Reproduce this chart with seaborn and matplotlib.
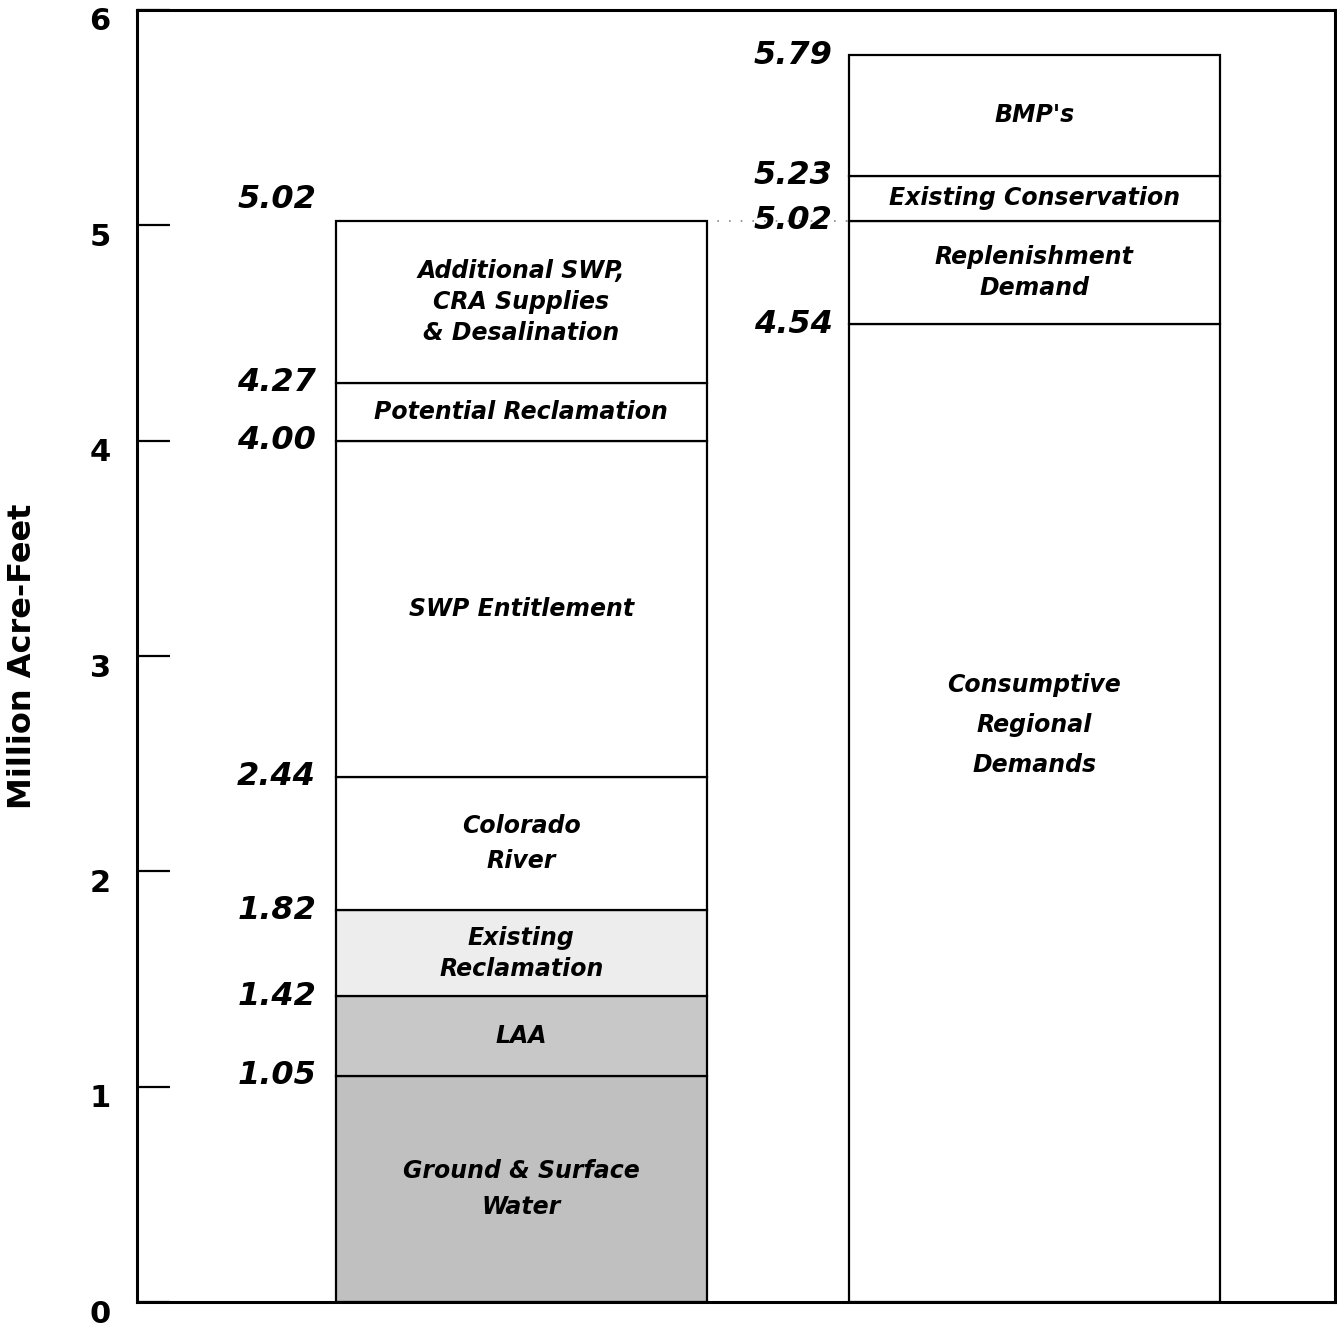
import pandas as pd
import seaborn as sns
import matplotlib.pyplot as plt
from matplotlib.transforms import ScaledTranslation

# data: stacked segments, bottom to top
supply_labels = ['Ground & Surface\nWater', 'LAA', 'Existing\nReclamation', 'Colorado\nRiver',
                 'SWP Entitlement', 'Potential Reclamation',
                 'Additional SWP,\nCRA Supplies\n& Desalination']
supply_tops = [1.05, 1.42, 1.82, 2.44, 4.00, 4.27, 5.02]
supply_colors = ['#c0c0c0', '#c8c8c8', '#ededed', 'white', 'white', 'white', 'white']

demand_labels = ['Consumptive\nRegional\nDemands', 'Replenishment\nDemand',
                 'Existing Conservation', "BMP's"]
demand_tops = [4.54, 5.02, 5.23, 5.79]
demand_colors = ['white', 'white', 'white', 'white']

bars = ['Supply', 'Demand']
yticks = [0, 1, 2, 3, 4, 5, 6]

rows = []
for bar, labels, tops, colors in [('Supply', supply_labels, supply_tops, supply_colors),
                                  ('Demand', demand_labels, demand_tops, demand_colors)]:
    prev = 0
    for lab, top, col in zip(labels, tops, colors):
        rows.append({'bar': bar, 'label': lab, 'bottom': prev, 'top': top,
                     'height': top - prev, 'color': col})
        prev = top
df = pd.DataFrame(rows)

sns.set_theme(style='white')
plt.rcParams['font.family'] = ['DejaVu Sans']
plt.rcParams['text.color'] = 'black'
plt.rcParams['axes.labelcolor'] = 'black'
plt.rcParams['ytick.color'] = 'black'

fig = plt.figure(figsize=(13.37, 13.27), dpi=100)
ax = fig.add_axes([0.1025, 0.0188, 0.8960, 0.9737])

# 막대 하나씩 쌓기
for _, r in df.iterrows():
    sns.barplot(data=pd.DataFrame([r]), x='bar', y='height', order=bars,
                bottom=r['bottom'], color=r['color'], width=0.724,
                edgecolor='black', linewidth=1.6, errorbar=None, saturation=1, ax=ax)

ax.set_xlim(-0.749, 1.586)
ax.set_ylim(0, 6)
ax.set_xticks([])
ax.set_xlabel('')

# faint dotted line at 5.02
ax.hlines(5.02, 0.2, 1.15, colors='#888888', linestyles=(0, (1, 6)), linewidth=1.2, zorder=0)

# segment labels
spacing = {'Consumptive': 1.86, 'Colorado': 1.6, 'Ground': 1.6}
txt = dict(ha='center', va='center', fontsize=17, fontweight='bold', fontstyle='italic',
           color='black')
for _, r in df.iterrows():
    x = bars.index(r['bar'])
    y = (r['bottom'] + r['top']) / 2
    if r['label'].startswith('Consumptive'):
        y = 2.68
    ls = spacing.get(r['label'].split('\n')[0].split(' ')[0], 1.36)
    ax.text(x, y, r['label'], linespacing=ls, **txt)

# value labels
num = dict(ha='right', va='center', fontsize=23, fontweight='bold', fontstyle='italic',
           color='black')
for t in supply_tops[:-1]:
    ax.text(-0.40, t, f'{t:.2f}', **num)
ax.text(-0.40, supply_tops[-1] + 0.03, f'{supply_tops[-1]:.2f}', ha='right', va='bottom',
        fontsize=23, fontweight='bold', fontstyle='italic', color='black')
for t in demand_tops:
    ax.text(0.607, t, f'{t:.2f}', **num)

ax.set_yticks(yticks)
ax.set_yticklabels([str(v) for v in yticks], fontsize=22, fontweight='bold', color='black')
ax.tick_params(axis='y', direction='in', length=24, width=1.6, pad=19, color='black', left=True)
for lab in ax.get_yticklabels():
    lab.set_transform(lab.get_transform() + ScaledTranslation(0, -0.09, fig.dpi_scale_trans))

ax.set_ylabel('Million Acre-Feet', fontsize=23, fontweight='bold', color='black')
ax.yaxis.set_label_coords(-0.0825, 0.5)

for s in ax.spines.values():
    s.set_color('black')
    s.set_linewidth(2.2)

fig.savefig('out.png', dpi=100)
